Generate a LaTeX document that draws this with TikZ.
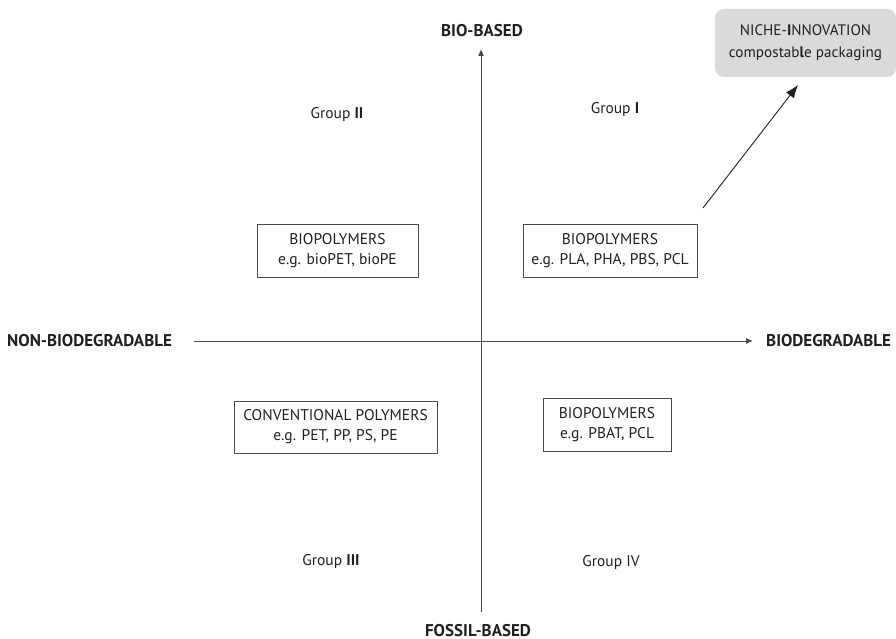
\documentclass[tikz,border=0pt]{standalone}
\usepackage{fontspec}
\setmainfont{PT Sans}
\usetikzlibrary{arrows.meta}
\definecolor{axisgray}{HTML}{4A4A4A}
\definecolor{txt}{HTML}{231F20}
\definecolor{nichefill}{HTML}{D9DADB}
\tikzset{
  bodytext/.style={font=\fontsize{15.5}{20}\selectfont, text=txt, align=center, inner sep=0pt},
  axislabel/.style={font=\fontsize{17}{20}\selectfont\bfseries, text=txt, inner sep=0pt},
  polybox/.style={draw=axisgray, line width=0.9pt, font=\fontsize{15.5}{20}\selectfont, text=txt, align=center, inner sep=0pt},
  axisline/.style={draw=axisgray, line width=1pt, -{Latex[length=7pt,width=6pt]}},
  nichearrow/.style={draw=txt, line width=0.9pt, -{Latex[length=13pt,width=10pt]}}
}
\begin{document}
\begin{tikzpicture}[x=1pt,y=-1pt]
\useasboundingbox (0,0) rectangle (896,639);
% axes
\coordinate (vbot) at (481,612);
\coordinate (vtop) at (481,49);
\coordinate (hleft) at (194,341);
\coordinate (hright) at (753,341);
\draw[axisline] (vbot) -- (vtop);
\draw[axisline] (hleft) -- (hright);
% axis labels
\node[axislabel] (bio) at (482,31) {BIO-BASED};
\node[axislabel, anchor=base] (fossil) at (478,636) {FOSSIL-BASED};
\node[axislabel, anchor=west] (nonbio) at (7,341) {NON-BIODEGRADABLE};
\node[axislabel, anchor=west] (biodeg) at (766,341) {BIODEGRADABLE};
% group labels
\node[bodytext] (g2) at (337,115) {Group \textbf{II}};
\node[bodytext] (g1) at (615,110) {Group \textbf{I}};
\node[bodytext] (g3) at (331,562) {Group \textbf{III}};
\node[bodytext] (g4) at (611,563) {Group IV};
% boxes
\node[polybox, minimum width=161pt, minimum height=53pt] (boxA) at (337.5,251) {BIOPOLYMERS\\e.g. bioPET, bioPE};
\node[polybox, minimum width=174pt, minimum height=53pt] (boxB) at (610,251) {BIOPOLYMERS\\e.g. PLA, PHA, PBS, PCL};
\node[polybox, minimum width=203pt, minimum height=52pt] (boxC) at (335.5,427) {CONVENTIONAL POLYMERS\\e.g. PET, PP, PS, PE};
\node[polybox, minimum width=128pt, minimum height=53pt] (boxD) at (607,424.5) {BIOPOLYMERS\\e.g. PBAT, PCL};
% niche innovation
\node[fill=nichefill, rounded corners=9pt, minimum width=181pt, minimum height=68pt, inner sep=0pt,
      font=\fontsize{15.2}{22}\selectfont, text=txt, align=center] (niche) at (805.5,43) {NICHE-\textbf{I}NNOVATION\\compostab\textbf{l}e packaging};
\coordinate (arrstart) at (703,208);
\coordinate (arrtip) at (798,85);
\draw[nichearrow] (arrstart) -- (arrtip);
\end{tikzpicture}
\end{document}
